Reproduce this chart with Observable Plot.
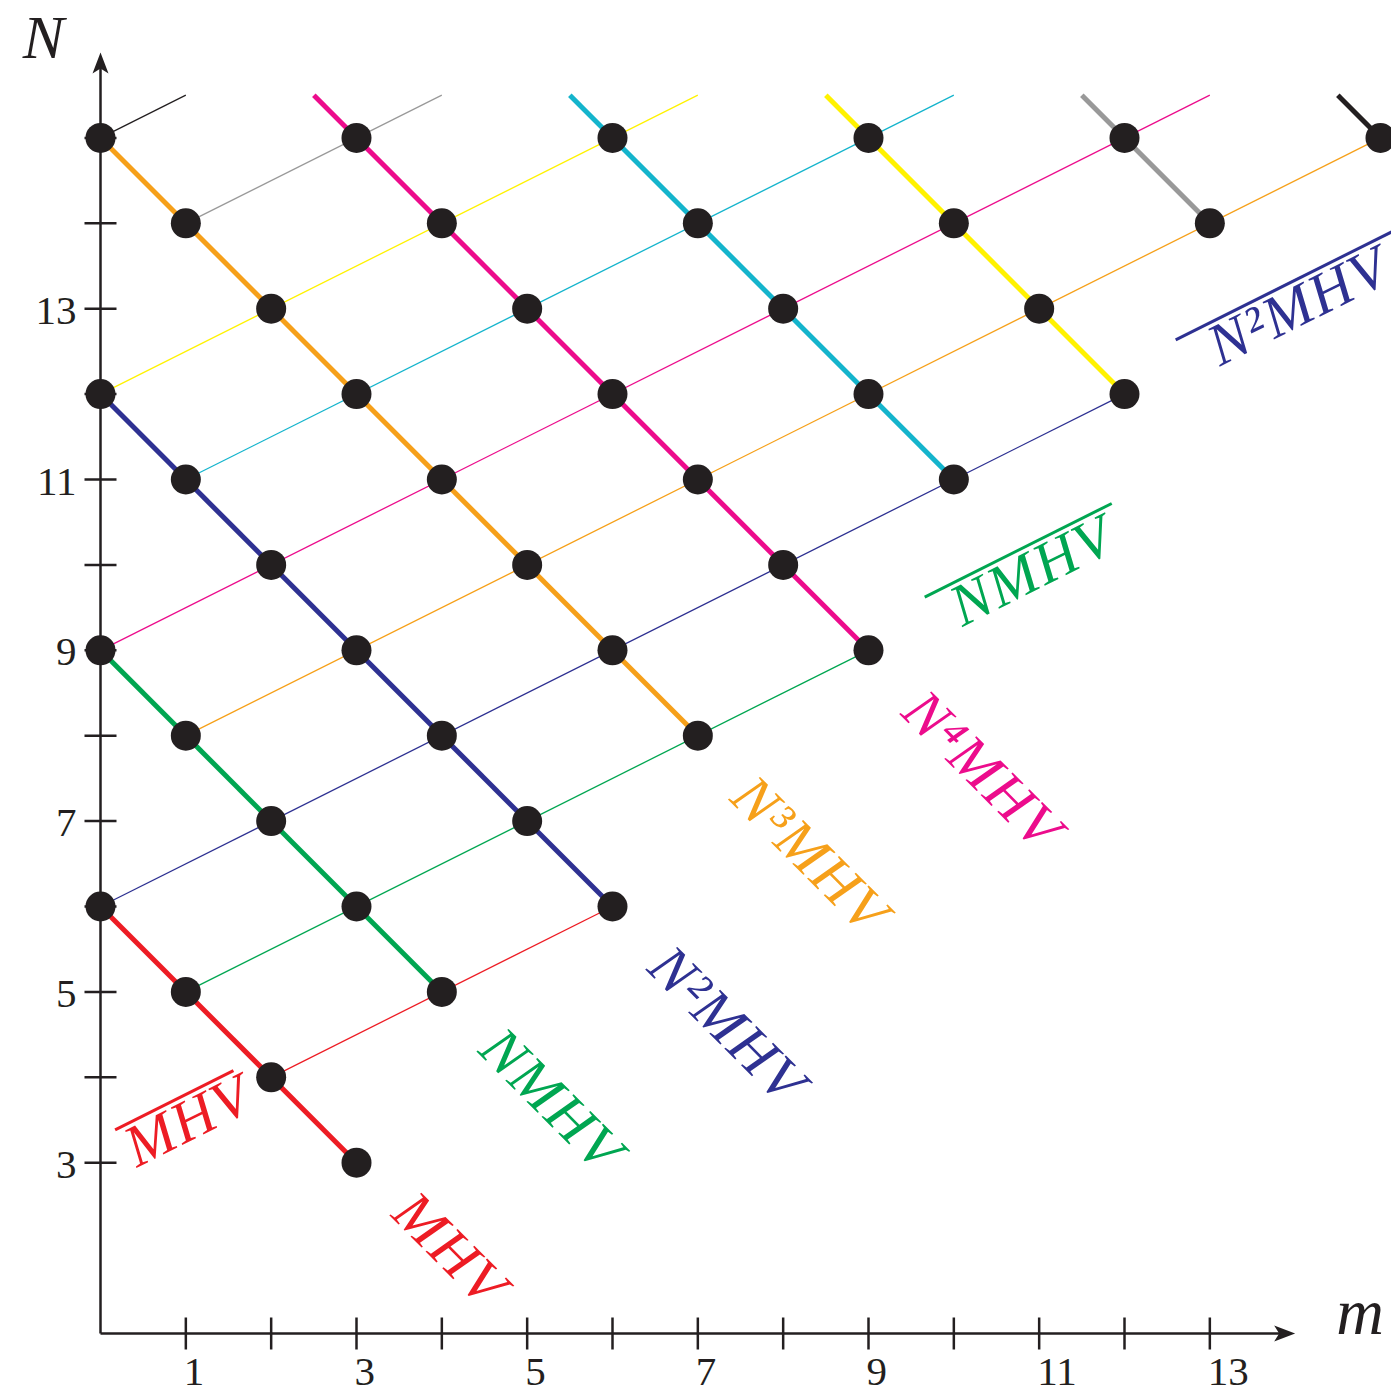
<!DOCTYPE html>
<html>
<head>
<meta charset="utf-8">
<script src="https://cdn.jsdelivr.net/npm/d3@7"></script>
<script src="https://cdn.jsdelivr.net/npm/@observablehq/plot@0.6"></script>
<style>
  html, body { margin: 0; padding: 0; background: white; overflow: hidden; }
  #chart svg { display: block; }
</style>
</head>
<body>
<div id="chart"></div>
<script>
// ---- data ----
const series = ["MHV", "NMHV", "N2MHV", "N3MHV", "N4MHV", "N5MHV", "N6MHV", "N7MHV", "N8MHV"];
const palette = ["#ED1C24", "#00A651", "#2E3192", "#F6A01A", "#EC0C8C", "#14B4CC", "#FFF200", "#999999", "#231F20"];

// bold descending lines (m, N) start and end
const boldStart = [[0, 6], [0, 9], [0, 12], [0, 15], [2.5, 15.5], [5.5, 15.5], [8.5, 15.5], [11.5, 15.5], [14.5, 15.5]];
const boldEnd   = [[3, 3], [4, 5], [6, 6], [7, 8], [9, 9], [10, 11], [12, 12], [13, 14], [15, 15]];
// thin ascending lines
const thinStart = [[2, 4], [1, 5], [0, 6], [1, 8], [0, 9], [1, 11], [0, 12], [1, 14], [0, 15]];
const thinEnd   = [[6, 6], [9, 9], [12, 12], [15, 15], [13, 15.5], [10, 15.5], [7, 15.5], [4, 15.5], [1, 15.5]];

// points (m, N)
const pointM = [3, 2, 1, 4, 0, 3, 6, 2, 5, 1, 4, 7, 0, 3, 6, 9, 2, 5, 8, 1, 4, 7, 10, 0, 3, 6, 9, 12, 2, 5, 8, 11, 1, 4, 7, 10, 13, 0, 3, 6, 9, 12, 15];
const pointN = [3, 4, 5, 5, 6, 6, 6, 7, 7, 8, 8, 8, 9, 9, 9, 9, 10, 10, 10, 11, 11, 11, 11, 12, 12, 12, 12, 12, 13, 13, 13, 13, 14, 14, 14, 14, 14, 15, 15, 15, 15, 15, 15];

// axes
const xTicks = [1, 2, 3, 4, 5, 6, 7, 8, 9, 10, 11, 12, 13];
const yTicks = [3, 4, 5, 6, 7, 8, 9, 10, 11, 12, 13, 14, 15];
const xTickLabels = [1, 3, 5, 7, 9, 11, 13];
const yTickLabels = [3, 5, 7, 9, 11, 13];
const xAxisEnd = 14, yAxisEnd = 16;

// line labels
const labelText   = ["MHV", "NMHV", "N²MHV", "N³MHV", "N⁴MHV", "MHV", "NMHV", "N²MHV"];
const labelSeries = ["MHV", "NMHV", "N2MHV", "N3MHV", "N4MHV", "MHV", "NMHV", "N2MHV"];
const labelM      = [4.10, 5.29, 7.35, 8.32, 10.34, 1.03, 10.92, 14.04];
const labelN      = [1.98, 3.73, 4.61, 6.60, 7.59, 3.49, 9.93, 13.03];
const labelBar    = [false, false, false, false, false, true, true, true];

// ---- build tables ----
const bold = series.map((s, i) => ({s, m1: boldStart[i][0], n1: boldStart[i][1], m2: boldEnd[i][0], n2: boldEnd[i][1]}));
const thin = series.map((s, i) => ({s, m1: thinStart[i][0], n1: thinStart[i][1], m2: thinEnd[i][0], n2: thinEnd[i][1]}));
const points = pointM.map((m, i) => ({m, n: pointN[i]}));
const thinAngle = Math.atan2(1, 2);
const labels = labelText.map((t, i) => ({
  t, s: labelSeries[i], m: labelM[i], n: labelN[i], bar: labelBar[i],
  rot: labelBar[i] ? -thinAngle * 180 / Math.PI : 45
}));
// overline bars for the "bar" labels, derived from label anchors
const barLen = {"MHV": 1.55, "NMHV": 2.45, "N2MHV": 2.85}; // in axis units
const barOff = 0.29;
const bars = labels.filter(d => d.bar).map(d => {
  const ux = Math.cos(thinAngle), uy = Math.sin(thinAngle);
  const cx = d.m - uy * barOff - ux * 0.04, cy = d.n + ux * barOff - uy * 0.04;
  const L = barLen[d.s] / 2;
  return {s: d.s, m1: cx - ux * L, n1: cy - uy * L, m2: cx + ux * L, n2: cy + uy * L};
});

const ink = "#231F20";
const vtick = {draw(ctx) { ctx.moveTo(0, -16); ctx.lineTo(0, 16); }};
const htick = {draw(ctx) { ctx.moveTo(-16, 0); ctx.lineTo(16, 0); }};
const arrowUp = {draw(ctx) { ctx.moveTo(0, 0); ctx.lineTo(-8, 21); ctx.lineTo(0, 16); ctx.lineTo(8, 21); ctx.closePath(); }};
const arrowRight = {draw(ctx) { ctx.moveTo(0, 0); ctx.lineTo(-21, -8); ctx.lineTo(-16, 0); ctx.lineTo(-21, 8); ctx.closePath(); }};
const serif = "'Liberation Serif', 'DejaVu Serif', serif";

const chart = Plot.plot({
  width: 1391,
  height: 1394,
  marginLeft: 100,
  marginRight: 11,
  marginTop: 52,
  marginBottom: 61,
  x: {domain: [0, 15], axis: null},
  y: {domain: [1, 16], axis: null},
  color: {domain: series, range: palette},
  style: {background: "white", fontFamily: serif},
  marks: [
    // thin ascending lines
    Plot.link(thin, {x1: "m1", y1: "n1", x2: "m2", y2: "n2", stroke: "s", strokeWidth: 1.3}),
    // bold descending lines
    Plot.link(bold, {x1: "m1", y1: "n1", x2: "m2", y2: "n2", stroke: "s", strokeWidth: 5}),
    // axes
    Plot.link([{x1: 0, y1: 1, x2: xAxisEnd - 0.15, y2: 1}, {x1: 0, y1: 1, x2: 0, y2: yAxisEnd - 0.15}],
      {x1: "x1", y1: "y1", x2: "x2", y2: "y2", stroke: ink, strokeWidth: 2.5}),
    Plot.dot(xTicks, {x: d => d, y: 1, symbol: vtick, fill: "none", stroke: ink, strokeWidth: 2.5}),
    Plot.dot(yTicks, {x: 0, y: d => d, symbol: htick, fill: "none", stroke: ink, strokeWidth: 2.5}),
    Plot.dot([0], {x: xAxisEnd, y: 1, symbol: arrowRight, fill: ink, stroke: "none"}),
    Plot.dot([0], {x: 0, y: yAxisEnd, symbol: arrowUp, fill: ink, stroke: "none"}),
    // points
    Plot.dot(points, {x: "m", y: "n", r: 15, fill: ink, stroke: "none"}),
    // tick labels
    Plot.text(xTickLabels, {x: d => d, y: 1, text: d => String(d), dy: 38, dx: -2, textAnchor: "start", fontSize: 41, fill: ink}),
    Plot.text(yTickLabels, {x: 0, y: d => d, text: d => String(d), dx: -24, dy: 2, textAnchor: "end", fontSize: 41, fill: ink}),
    // axis titles
    Plot.text(["N"], {x: -0.67, y: 16.17, text: d => d, fontSize: 62, fontStyle: "italic", fill: ink}),
    Plot.text(["m"], {x: 14.76, y: 1.24, text: d => d, fontSize: 66, fontStyle: "italic", fill: ink}),
    // line labels
    Plot.text(labels, {x: "m", y: "n", text: "t", rotate: "rot", fill: "s", fontSize: 59, fontStyle: "italic"}),
    Plot.link(bars, {x1: "m1", y1: "n1", x2: "m2", y2: "n2", stroke: "s", strokeWidth: 3})
  ]
});
// widen the letter spacing of the rotated line labels (math-italic look)
d3.select(chart).selectAll("text")
  .filter(function() { return (this.getAttribute("transform") || "").includes("rotate"); })
  .attr("letter-spacing", "2px");
document.getElementById("chart").appendChild(chart);
</script>
</body>
</html>
